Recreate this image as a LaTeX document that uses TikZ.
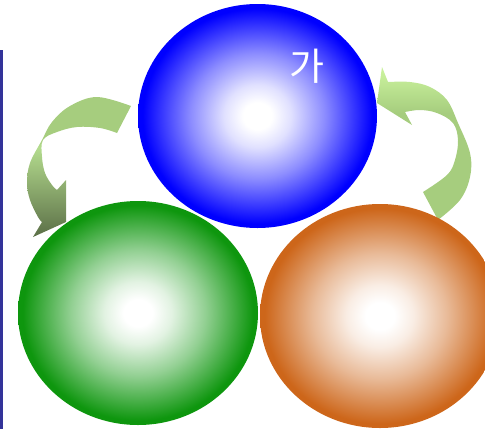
\documentclass[tikz,border=0pt]{standalone}
\usepackage{fontspec}
\newfontfamily\krfont{Noto Sans CJK KR}
\usetikzlibrary{shapes.geometric}
\definecolor{ballblue}{RGB}{0,0,255}
\definecolor{ballgreen}{RGB}{14,150,14}
\definecolor{ballorange}{RGB}{205,102,26}
\definecolor{lineblue}{RGB}{51,51,153}
\definecolor{arrowmid}{RGB}{166,205,126}
\definecolor{arrowlight}{RGB}{180,220,142}
\definecolor{arrowdark}{RGB}{91,111,71}
\definecolor{arrowtop}{RGB}{200,240,155}
\colorlet{blueA}{ballblue!12!white}
\colorlet{blueB}{ballblue!45!white}
\colorlet{greenA}{ballgreen!12!white}
\colorlet{greenB}{ballgreen!45!white}
\colorlet{orangeA}{ballorange!12!white}
\colorlet{orangeB}{ballorange!45!white}
\pgfdeclareradialshading{blueball}{\pgfpoint{0bp}{0bp}}{color(0bp)=(white); color(3bp)=(white); color(7bp)=(blueA); color(14bp)=(blueB); color(24bp)=(ballblue); color(50bp)=(ballblue)}
\pgfdeclareradialshading{greenball}{\pgfpoint{0bp}{0bp}}{color(0bp)=(white); color(3bp)=(white); color(7bp)=(greenA); color(14bp)=(greenB); color(24bp)=(ballgreen); color(50bp)=(ballgreen)}
\pgfdeclareradialshading{orangeball}{\pgfpoint{0bp}{0bp}}{color(0bp)=(white); color(3bp)=(white); color(7bp)=(orangeA); color(14bp)=(orangeB); color(24bp)=(ballorange); color(50bp)=(ballorange)}
\pgfdeclareverticalshading{leftarrowshade}{100bp}{color(0bp)=(arrowdark); color(25bp)=(arrowdark); color(57bp)=(arrowlight); color(60bp)=(arrowmid); color(100bp)=(arrowmid)}
\pgfdeclareverticalshading{rightarrowshade}{100bp}{color(0bp)=(arrowmid); color(60bp)=(arrowmid); color(73bp)=(arrowtop); color(100bp)=(arrowtop)}
\tikzset{
  ball/.style={ellipse, inner sep=0pt, minimum width=240pt, minimum height=224pt},
  cyclearrow/.style={draw=none},
}
\begin{document}
\begin{tikzpicture}[x=1pt,y=-1pt]
\useasboundingbox (0,0) rectangle (485,429);
\clip (0,0) rectangle (485,429);
% left vertical rule
\coordinate (lt) at (1.5,50);
\coordinate (lb) at (1.5,429);
\draw[lineblue, line width=3pt] (lt) -- (lb);
% left curved arrow
\shade[cyclearrow, shading=leftarrowshade]
  plot[smooth, tension=0.6] coordinates {(131,106) (97,97) (70,106) (52,122) (42,140) (30,163) (27,183) (30,200) (38,217) (42,222)}
  -- (33,237) -- (66,222) -- (66,180)
  -- plot[smooth, tension=0.6] coordinates {(57,190) (52,185) (45,173) (42,157) (43,140) (57,132) (77,127) (100,128) (117,133)}
  -- cycle;
% right curved arrow
\shade[cyclearrow, shading=rightarrowshade]
  (438,220) -- (423,192)
  -- plot[smooth, tension=0.6] coordinates {(423,192) (447,175) (455,160) (458,140) (453,123) (437,113) (420,110) (405,112)}
  -- (412,125) -- (377,103) -- (382,67)
  -- plot[smooth, tension=0.6] coordinates {(388,82) (410,82) (430,87) (447,100) (458,123) (470,153) (470,177) (460,200) (438,220)}
  -- cycle;
% balls
\node[ball, shading=blueball, minimum width=239pt] (blue) at (257.5,116) {};
\node[ball, shading=greenball] (green) at (138,313) {};
\node[ball, shading=orangeball] (orange) at (380,316) {};
\node[text=white, font=\krfont\fontsize{38}{38}\selectfont, inner sep=0pt] (label) at (307,66) {가};
\end{tikzpicture}
\end{document}
